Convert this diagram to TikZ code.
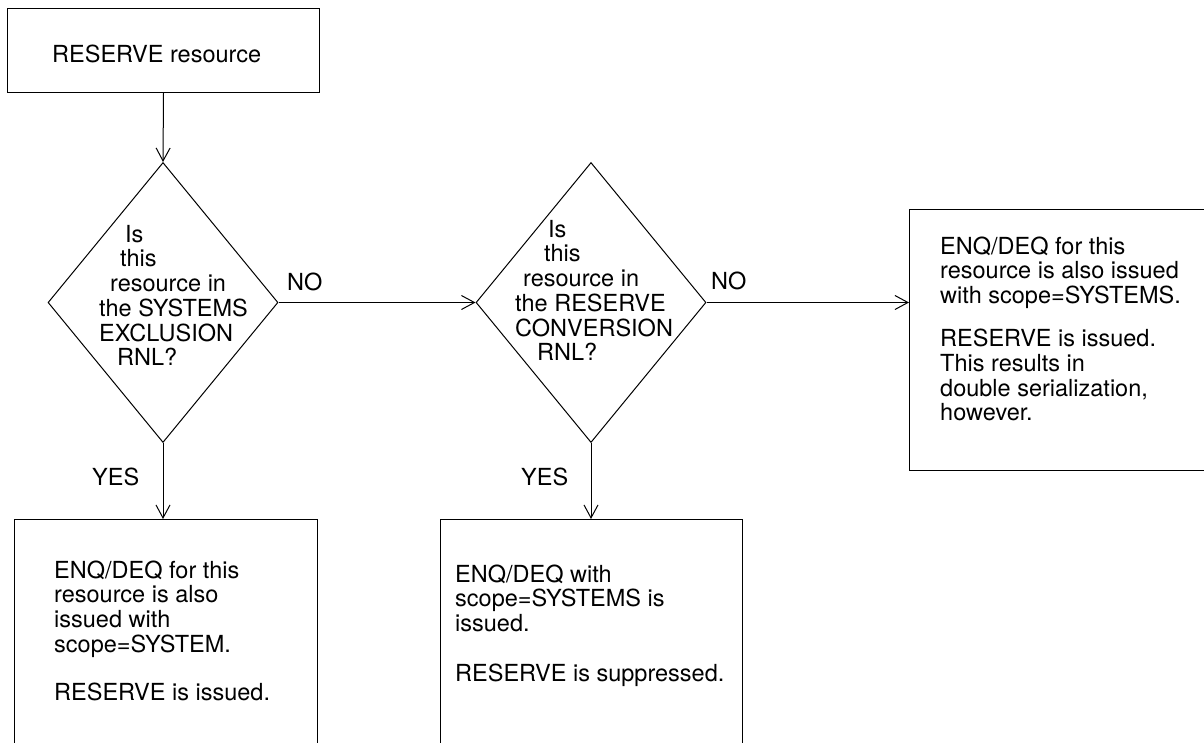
\documentclass[tikz,border=0pt]{standalone}
\usepackage{fontspec}
\setmainfont{TeX Gyre Heros}
\usetikzlibrary{arrows.meta,shapes.geometric}
\begin{document}
\begin{tikzpicture}[x=1pt,y=-1pt,
  ln/.style={line width=1pt, draw=black},
  flow/.style={ln, -{Straight Barb[length=13pt,width=14pt,line width=1pt]}},
  boxnode/.style={draw=black, line width=1pt, rectangle, inner sep=0pt, anchor=north west},
  dia/.style={draw=black, line width=1pt, diamond, inner sep=0pt, minimum width=230pt, minimum height=280pt},
  txt/.style={inner sep=0pt, anchor=base west, font=\fontsize{23.5}{24.6}\selectfont, text=black}
]
\clip (0,0) rectangle (1204,742);
\fill[white] (0,0) rectangle (1204,742);

% boxes
\node[boxnode, minimum width=312pt, minimum height=84pt] (top) at (7,8) {};
\node[dia] (d1) at (163,302.5) {};
\node[dia] (d2) at (591,302.5) {};
\node[boxnode, minimum width=320pt, minimum height=261pt] (rbox) at (909,209) {};
\node[boxnode, minimum width=303pt, minimum height=260pt] (b1) at (14,519) {};
\node[boxnode, minimum width=302pt, minimum height=260pt] (b2) at (440,519) {};

% texts
\node[txt] (toptext) at (52,62) {RESERVE resource};
\node[txt] (d1text) at (99,242) {\begin{tabular}[t]{@{}l@{}}
\hspace*{26pt}Is\\
\hspace*{21pt}this\\
\hspace*{11pt}resource in\\
the SYSTEMS\\
EXCLUSION\\
\hspace*{18pt}RNL?
\end{tabular}};
\node[txt] (d2text) at (515,237) {\begin{tabular}[t]{@{}l@{}}
\hspace*{33pt}Is\\
\hspace*{29pt}this\\
\hspace*{8pt}resource in\\
the RESERVE\\
CONVERSION\\
\hspace*{22pt}RNL?
\end{tabular}};
\node[txt] (no1) at (287,290) {NO};
\node[txt] (no2) at (711,289) {NO};
\node[txt] (yes1) at (92,485) {YES};
\node[txt] (yes2) at (521,485) {YES};
\node[txt] (rtext) at (940,254) {\begin{tabular}[t]{@{}l@{}}
ENQ/DEQ for this\\
resource is also issued\\
with scope=SYSTEMS.\\[18.4pt]
RESERVE is issued.\\
This results in\\
double serialization,\\
however.
\end{tabular}};
\node[txt] (b1text) at (54,578) {\begin{tabular}[t]{@{}l@{}}
ENQ/DEQ for this\\
resource is also\\
issued with\\
scope=SYSTEM.\\[23.4pt]
RESERVE is issued.
\end{tabular}};
\node[txt] (b2text) at (455,582) {\begin{tabular}[t]{@{}l@{}}
ENQ/DEQ with\\
scope=SYSTEMS is\\
issued.\\[25pt]
RESERVE is suppressed.
\end{tabular}};

% connectors
\draw[flow] (top.south) -- (d1.north);
\draw[flow] (d1.east) -- (d2.west);
\draw[flow] (d2.east) -- (d2.east -| rbox.west);
\draw[flow] (d1.south) -- (d1.south |- b1.north);
\draw[flow] (d2.south) -- (d2.south |- b2.north);
\end{tikzpicture}
\end{document}
